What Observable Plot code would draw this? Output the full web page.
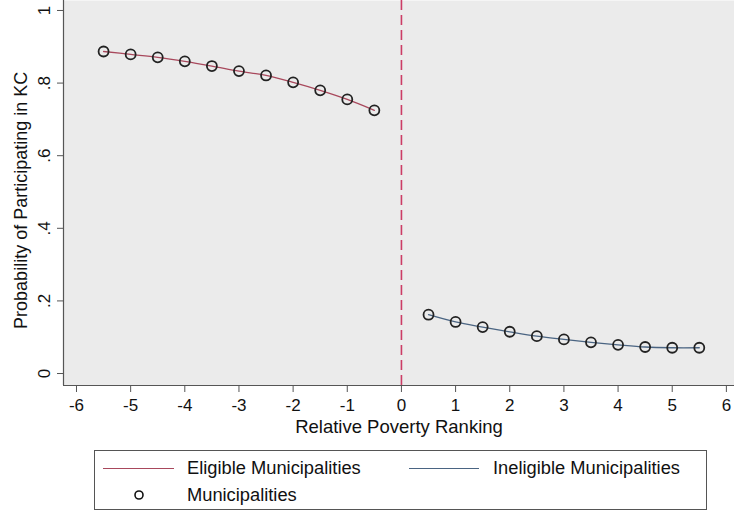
<!DOCTYPE html>
<html>
<head>
<meta charset="utf-8">
<script src="https://cdn.jsdelivr.net/npm/d3@7"></script>
<script src="https://cdn.jsdelivr.net/npm/@observablehq/plot@0.6"></script>
<style>
  html, body { margin: 0; padding: 0; background: #fff; }
  body { font-family: "Liberation Sans", Arial, Helvetica, sans-serif; }
  #wrap { position: relative; width: 734px; height: 518px; overflow: hidden; }
  #legend { position: absolute; left: 94px; top: 450px; width: 613px; height: 60px; border: 1px solid #555; box-sizing: border-box; background: #fff; }
  .lg { position: absolute; font-size: 18.3px; color: #111; line-height: 20px; white-space: nowrap; }
  .sw { position: absolute; height: 0; border-top: 1.5px solid; }
</style>
</head>
<body>
<div id="wrap"><div id="chart"></div>
<div id="legend">
  <div class="sw" id="swE" style="left:8px; top:17px; width:71px;"></div>
  <div class="lg" id="lgE" style="left:92px; top:7px;"></div>
  <div class="sw" id="swI" style="left:314px; top:17px; width:70px;"></div>
  <div class="lg" id="lgI" style="left:398px; top:7px;"></div>
  <svg style="position:absolute; left:37px; top:37px;" width="14" height="14"><circle cx="7" cy="7" r="4" fill="none" stroke="#111" stroke-width="1.6"/></svg>
  <div class="lg" id="lgM" style="left:92px; top:34px;"></div>
</div>
</div>
<script>
// ---- data ----
const eligibleX = [-5.5, -5, -4.5, -4, -3.5, -3, -2.5, -2, -1.5, -1, -0.5];
const eligibleY = [0.887, 0.879, 0.871, 0.860, 0.847, 0.833, 0.821, 0.802, 0.780, 0.755, 0.725];
const ineligibleX = [0.5, 1, 1.5, 2, 2.5, 3, 3.5, 4, 4.5, 5, 5.5];
const ineligibleY = [0.162, 0.142, 0.128, 0.115, 0.103, 0.094, 0.086, 0.079, 0.073, 0.071, 0.071];
const cutoff = [0];
const xTicks = [-6, -5, -4, -3, -2, -1, 0, 1, 2, 3, 4, 5, 6];
const xTickLabels = ["-6", "-5", "-4", "-3", "-2", "-1", "0", "1", "2", "3", "4", "5", "6"];
const yTicks = [0, 0.2, 0.4, 0.6, 0.8, 1];
const yTickLabels = ["0", ".2", ".4", ".6", ".8", "1"];
const seriesNames = ["Eligible Municipalities", "Ineligible Municipalities", "Municipalities"];
const xTitle = "Relative Poverty Ranking";
const yTitle = "Probability of Participating in KC";

const colE = "#a8485c";
const colI = "#4a6482";
const xDomain = [-6.24, 6.15];
const yDomain = [-0.033, 1.0275];

const eligible = eligibleX.map((x, i) => ({x, y: eligibleY[i]}));
const ineligible = ineligibleX.map((x, i) => ({x, y: ineligibleY[i]}));
const all = eligible.concat(ineligible);

const chart = Plot.plot({
  width: 734,
  height: 440,
  marginLeft: 63,
  marginRight: 0,
  marginTop: 0,
  marginBottom: 55,
  style: {fontFamily: '"Liberation Sans", Arial, sans-serif', fontSize: "17px", color: "#111", background: "transparent"},
  x: {domain: xDomain},
  y: {domain: yDomain},
  marks: [
    Plot.frame({fill: "#ebebeb", stroke: null}),
    Plot.ruleX(cutoff, {stroke: "#cc3d66", strokeWidth: 1.6, strokeDasharray: "10,5"}),
    Plot.line(eligible, {x: "x", y: "y", stroke: colE, strokeWidth: 1.3, curve: "catmull-rom"}),
    Plot.line(ineligible, {x: "x", y: "y", stroke: colI, strokeWidth: 1.3, curve: "catmull-rom"}),
    Plot.dot(all, {x: "x", y: "y", r: 5, stroke: "#222", strokeWidth: 1.8, fill: "none"}),
    Plot.ruleX([xDomain[0]], {stroke: "#555", strokeWidth: 1.2}),
    Plot.ruleY([yDomain[0]], {stroke: "#555", strokeWidth: 1.2}),
    Plot.axisX({ticks: xTicks, tickFormat: d => xTickLabels[xTicks.indexOf(d)], tickSize: 7, tickPadding: 6, label: null, fontSize: 17, stroke: "#555"}),
    Plot.axisY({ticks: yTicks, tickFormat: d => yTickLabels[yTicks.indexOf(d)], tickRotate: -90, tickSize: 6, tickPadding: 8, label: null, fontSize: 17, stroke: "#555"}),
    Plot.text([xTitle], {frameAnchor: "bottom", dy: 47, fontSize: 18.5, fill: "#111"}),
    Plot.text([yTitle], {frameAnchor: "left", y: () => 0.477, rotate: -90, dx: -42, textAnchor: "middle", fontSize: 18, fill: "#111"})
  ]
});
document.getElementById("chart").appendChild(chart);

document.getElementById("swE").style.borderColor = colE;
document.getElementById("swI").style.borderColor = colI;
document.getElementById("lgE").textContent = seriesNames[0];
document.getElementById("lgI").textContent = seriesNames[1];
document.getElementById("lgM").textContent = seriesNames[2];
</script>
</body>
</html>
